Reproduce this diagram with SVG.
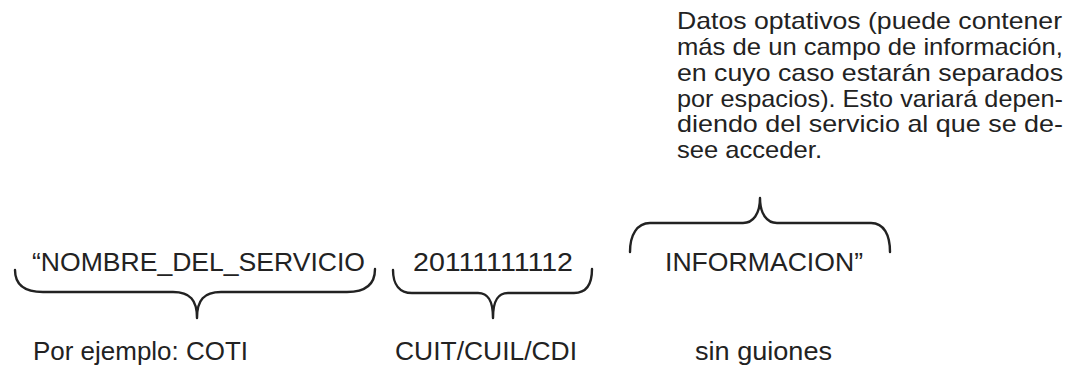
<svg xmlns="http://www.w3.org/2000/svg" width="1074" height="367" viewBox="0 0 1074 367">
<style>
text{font-family:"Liberation Sans",Arial,sans-serif;fill:#222}
.lbl{font-size:25px}
.par{font-size:24px}
.brace{fill:none;stroke:#222;stroke-width:2.4;stroke-linecap:round;stroke-linejoin:round}
</style>
<rect width="1074" height="367" fill="#fff"/>
<g id="connectors">
<path class="brace" d="M15,270 C15,285 25,292 43,292 L173,292 C190,292 197,300 197,318 C197,300 204,292 221,292 L347,292 C365,292 375,285 375,269"/>
<path class="brace" d="M393,270 C393,285 400,293 412,293 L478,293 C488,293 493,300 493,318 C493,300 498,293 508,293 L574,293 C586,293 592,285 592,269"/>
<path class="brace" d="M630,252 C630,235 637,223 650,223 L743,223 C753,223 760,214 760,198 C760,214 767,223 777,223 L871,223 C884,223 890,235 890,252"/>
</g>
<g id="node-servicio">
<text class="lbl" x="32" y="271" textLength="333" lengthAdjust="spacingAndGlyphs">“NOMBRE_DEL_SERVICIO</text>
<text class="lbl" x="33" y="360" textLength="215" lengthAdjust="spacingAndGlyphs">Por ejemplo: COTI</text>
</g>
<g id="node-cuit">
<text class="lbl" x="413" y="271" textLength="160" lengthAdjust="spacingAndGlyphs">20111111112</text>
<text class="lbl" x="395" y="360" textLength="182" lengthAdjust="spacingAndGlyphs">CUIT/CUIL/CDI</text>
</g>
<g id="node-informacion">
<text class="lbl" x="665" y="271" textLength="198" lengthAdjust="spacingAndGlyphs">INFORMACION”</text>
<text class="lbl" x="695" y="360" textLength="137" lengthAdjust="spacingAndGlyphs">sin guiones</text>
</g>
<g id="node-datos">
<text class="par" x="677" y="29" textLength="385" lengthAdjust="spacingAndGlyphs">Datos optativos (puede contener</text>
<text class="par" x="677" y="55" textLength="386" lengthAdjust="spacingAndGlyphs">más de un campo de información,</text>
<text class="par" x="677" y="81" textLength="386" lengthAdjust="spacingAndGlyphs">en cuyo caso estarán separados</text>
<text class="par" x="677" y="106.5" textLength="386" lengthAdjust="spacingAndGlyphs">por espacios). Esto variará depen-</text>
<text class="par" x="677" y="132" textLength="386" lengthAdjust="spacingAndGlyphs">diendo del servicio al que se de-</text>
<text class="par" x="677" y="158" textLength="145" lengthAdjust="spacingAndGlyphs">see acceder.</text>
</g>
</svg>
